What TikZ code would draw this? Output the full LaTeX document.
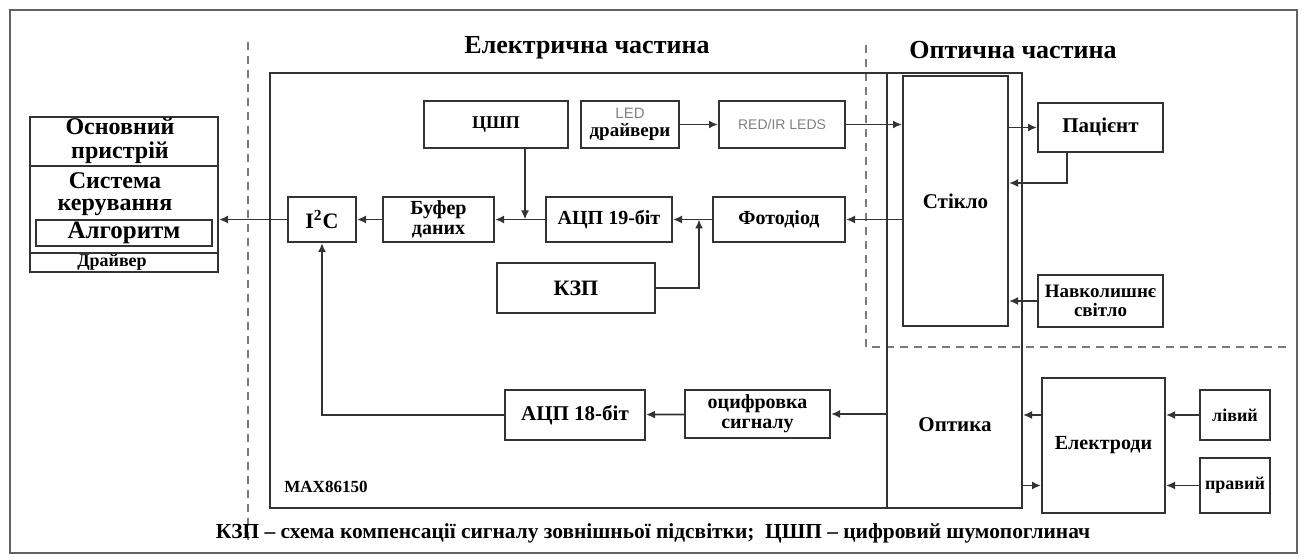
\documentclass[tikz,border=0pt]{standalone}
\usepackage{fontspec}
\setmainfont{Liberation Serif}
\newfontfamily\ledfont{Liberation Sans}
\usetikzlibrary{arrows.meta,positioning,calc}
\definecolor{lnclr}{HTML}{333333}
\definecolor{dashclr}{HTML}{7A7A7A}
\definecolor{ledgray}{HTML}{808080}

\begin{document}
\begin{tikzpicture}[x=0.5pt,y=-0.5pt,>={Latex[length=4.5pt,width=4pt]}]
    \tikzset{blk/.style={draw=lnclr,line width=1pt,inner sep=1pt,align=center,font=\bfseries\fontsize{10}{10}\selectfont},
      wire/.style={->,draw=lnclr,line width=0.85pt},
      sep/.style={draw=dashclr,line width=0.9pt,dash pattern=on 4pt off 3pt},
      lbl/.style={inner sep=0pt,align=center,font=\bfseries\fontsize{10}{10}\selectfont}}
    \useasboundingbox (0,0) rectangle (1305,560);
    \draw[draw=dashclr!80!black,line width=0.9pt] (10,10) rectangle (1297,553);
    \draw[sep] (248,42) -- (248,545);
    \draw[sep] (866,45) -- (866,347) -- (1290,347);
    \node[lbl,font=\bfseries\fontsize{13}{13}\selectfont] (elpart) at (587,48) {Електрична частина};
    \node[lbl,font=\bfseries\fontsize{13}{13}\selectfont] (oppart) at (1013,50) {Оптична частина};
    % host device
    \node[blk,minimum width=94pt,minimum height=77.5pt] (host) at (124,194.5) {};
    \draw[draw=lnclr,line width=1pt] (host.west |- 0,166) -- (host.east |- 0,166);
    \draw[draw=lnclr,line width=1pt] (host.west |- 0,253) -- (host.east |- 0,253);
    \node[lbl,font=\bfseries\fontsize{12}{12}\selectfont] (hosttop) at (120,141) {Основний\\пристрій};
    \node[lbl,font=\bfseries\fontsize{12}{11}\selectfont] (ctrl) at (115,194) {Система\\керування};
    \node[blk,minimum width=88pt,minimum height=13pt,inner sep=0pt,font=\bfseries\fontsize{12.5}{12.5}\selectfont] (algo) at (124,233) {Алгоритм};
    \node[lbl,font=\bfseries\fontsize{9}{9}\selectfont] (drv) at (112,262) {Драйвер};
    % MAX86150 chip
    \node[blk,minimum width=308.5pt,minimum height=217.5pt] (chip) at (578.5,290.5) {};
    \node[lbl,anchor=west,font=\bfseries\fontsize{8.5}{8.5}\selectfont] (chipname) at (284,487) {MAX86150};
    \node[blk,minimum width=34pt,minimum height=22.5pt,font=\bfseries\fontsize{11}{11}\selectfont] (i2c) at (322,219.5) {I\textsuperscript{2}C};
    \node[blk,minimum width=55.5pt,minimum height=22.5pt] (buf) at (438.5,219.5) {Буфер\\даних};
    \node[blk,minimum width=63pt,minimum height=22.5pt] (adcA) at (609,219.5) {АЦП 19-біт};
    \node[blk,minimum width=72pt,minimum height=23.5pt,font=\bfseries\fontsize{9}{9}\selectfont] (dnc) at (496,124.5) {ЦШП};
    \node[blk,minimum width=49pt,minimum height=23.5pt,font=\bfseries\fontsize{9.5}{9}\selectfont] (leddrv) at (630,124.5) {{\ledfont\mdseries\color{ledgray}\fontsize{7.5}{7.5}\selectfont LED}\\драйвери};
    \node[blk,minimum width=63pt,minimum height=23.5pt,font=\ledfont\fontsize{7}{7}\selectfont,text=ledgray] (leds) at (782,124.5) {RED/IR LEDS};
    \node[blk,minimum width=79pt,minimum height=25pt,font=\bfseries\fontsize{11}{11}\selectfont] (kzp) at (576,288) {КЗП};
    \node[blk,minimum width=66pt,minimum height=22.5pt] (pd) at (779,219.5) {Фотодіод};
    \node[blk,minimum width=70pt,minimum height=25pt,font=\bfseries\fontsize{10.5}{10.5}\selectfont] (adcB) at (575,415) {АЦП 18-біт};
    \node[blk,minimum width=72.5pt,minimum height=24pt] (dig) at (757.5,414) {оцифровка\\сигналу};
    % optics
    \node[blk,minimum width=67.5pt,minimum height=217.5pt] (optics) at (954.5,290.5) {};
    \node[lbl,font=\bfseries\fontsize{10.5}{10.5}\selectfont] (opticsname) at (955,425) {Оптика};
    \node[blk,minimum width=52.5pt,minimum height=125pt,font=\bfseries\fontsize{10.5}{10.5}\selectfont] (glass) at (955.5,201) {Стікло};
    \node[blk,minimum width=62.5pt,minimum height=24.5pt,font=\bfseries\fontsize{10.5}{10.5}\selectfont] (patient) at (1100.5,127.5) {Пацієнт};
    \node[blk,minimum width=62.5pt,minimum height=26pt,font=\bfseries\fontsize{9.5}{9.5}\selectfont] (ambient) at (1100.5,301) {Навколишнє\\світло};
    \node[blk,minimum width=61.5pt,minimum height=67.5pt] (electr) at (1103.5,445.5) {Електроди};
    \node[blk,minimum width=35pt,minimum height=25pt,font=\bfseries\fontsize{9}{9}\selectfont] (lft) at (1235,415) {лівий};
    \node[blk,minimum width=35pt,minimum height=27.5pt,font=\bfseries\fontsize{9}{9}\selectfont] (rgt) at (1235,485.5) {правий};
    \node[lbl,font=\bfseries\fontsize{10.7}{10.7}\selectfont] (note) at (653,533) {КЗП – схема компенсації сигналу зовнішньої підсвітки;\ \ ЦШП – цифровий шумопоглинач};
    \coordinate (jdnc) at (525,219.5);
    \coordinate (jkzp) at (699,219.5);
    \coordinate (jpat) at (1067,183);
    \draw[wire] (i2c.west) -- (i2c.west -| host.east);
    \draw[wire] (buf) -- (i2c);
    \draw[wire] (adcA) -- (buf);
    \draw[wire] (pd) -- (adcA);
    \draw[wire] (jdnc |- dnc.south) -- (jdnc);
    \draw[wire] (kzp.east) -| (jkzp);
    \draw[wire] (leddrv) -- (leds);
    \draw[wire] (leds.east) -- (leds.east -| glass.west);
    \draw[wire] (pd.east -| glass.west) -- (pd.east);
    \draw[wire] (glass.east |- patient) -- (patient);
    \draw[wire] (jpat |- patient.south) -- (jpat) -- (jpat -| glass.east);
    \draw[wire] (ambient.west) -- (ambient.west -| glass.east);
    \draw[wire] (dig.east -| optics.west) -- (dig.east);
    \draw[wire] (dig) -- (adcB);
    \draw[wire] (adcB.west) -| (i2c.south);
    \draw[wire] (electr.west |- lft) -- (optics.east |- lft);
    \draw[wire] (optics.east |- rgt) -- (electr.west |- rgt);
    \draw[wire] (lft.west) -- (lft.west -| electr.east);
    \draw[wire] (rgt.west) -- (rgt.west -| electr.east);
  \end{tikzpicture}
\end{document}
